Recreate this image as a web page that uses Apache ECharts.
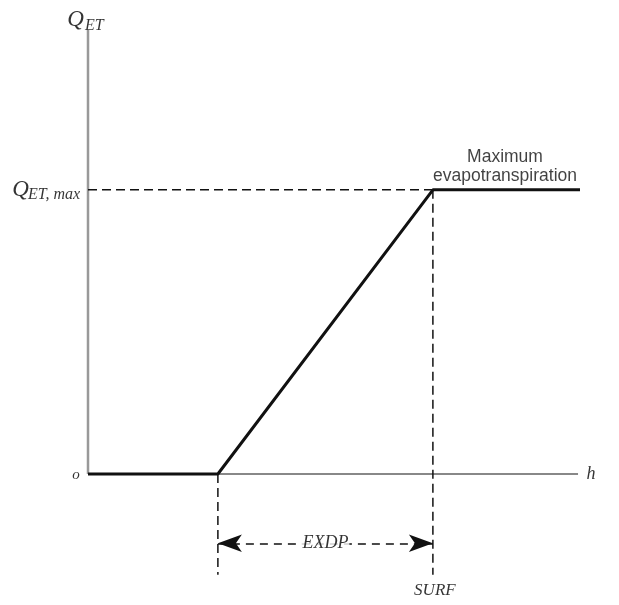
<!DOCTYPE html>
<html>
<head>
<meta charset="utf-8">
<script src="https://cdn.jsdelivr.net/npm/echarts@6/dist/echarts.min.js"></script>
<style>html,body{margin:0;padding:0;background:#fff;}#c{width:619px;height:605px;}</style>
</head>
<body>
<div id="c"></div>
<script>
// ---- data (in chart units) ----
const hRange = [0, 100];          // h axis extent
const qRange = [0, 100];          // Q_ET axis extent
const hCurve = [0, 26.4, 70.1, 100]; // h values of the ET function
const qCurve = [0, 0, 64, 64];       // Q_ET values of the ET function
const qMax = 64;                     // Q_ET,max
const hExdp = 26.4;                  // SURF - EXDP
const hSurf = 70.1;                  // SURF
const guideBottom = -22.7;           // lower end of vertical guides
const arrowLevel = -15.6;            // level of EXDP dimension arrow

const serif = '"Liberation Serif", "DejaVu Serif", serif';
const sans = '"Liberation Sans", Arial, sans-serif';
const ink = '#111';

function txt(value, text, opt) {
  return {
    value: value,
    label: Object.assign({
      show: true, formatter: text, position: 'inside',
      align: 'center', verticalAlign: 'middle',
      fontFamily: serif, fontStyle: 'italic', color: '#000', fontSize: 17
    }, opt)
  };
}

const labelData = [
  txt([hRange[0], qRange[1]], 'Q', { offset: [-12.5, -10], fontSize: 23 }),
  txt([hRange[0], qRange[1]], 'ET', { offset: [-3, -4.5], align: 'left', fontSize: 16 }),
  txt([hRange[0], qMax], 'Q', { offset: [-67.5, 0], fontSize: 23 }),
  txt([hRange[0], qMax], 'ET, max', { offset: [-60, 4.5], align: 'left', fontSize: 16 }),
  txt([hRange[0], 0], 'o', { offset: [-12, 1], fontSize: 15 }),
  txt([hRange[1], 0], 'h', { offset: [11, 0], fontSize: 18 }),
  txt([(hExdp + hSurf) / 2, arrowLevel], 'EXDP', { offset: [0, 0], fontSize: 18, backgroundColor: '#fff', padding: [0, 1] }),
  txt([hSurf, guideBottom], 'SURF', { offset: [2, 16], fontSize: 17 }),
  txt([hRange[1], qMax], 'Maximum', { offset: [-75, -33], fontFamily: sans, fontStyle: 'normal', fontSize: 17.5, color: '#111' }),
  txt([hRange[1], qMax], 'evapotranspiration', { offset: [-75, -14], fontFamily: sans, fontStyle: 'normal', fontSize: 17.5, color: '#111' })
];

const chart = echarts.init(document.getElementById('c'), null, { renderer: 'canvas' });
const dash = { color: ink, width: 1.5, type: [9, 5] };

chart.setOption({
  animation: false,
  backgroundColor: '#fff',
  grid: { left: 88, right: 39, top: 30, bottom: 20 },
  xAxis: { type: 'value', min: hRange[0], max: hRange[1], show: false },
  yAxis: { type: 'value', min: -25, max: qRange[1], show: false },
  series: [
    { type: 'line', silent: true, symbol: 'none', data: [[hRange[0], 0], [hRange[0], qRange[1]]],
      lineStyle: { color: '#999', width: 2.5 } },
    { type: 'line', silent: true, symbol: 'none', data: [[hRange[0], 0], [hRange[1] - 0.4, 0]],
      lineStyle: { color: '#888', width: 2 } },
    { type: 'line', silent: true, symbol: 'none', data: [[hRange[0], qMax], [hSurf, qMax]], lineStyle: dash },
    { type: 'line', silent: true, symbol: 'none', data: [[hSurf, qMax], [hSurf, guideBottom]], lineStyle: dash },
    { type: 'line', silent: true, symbol: 'none', data: [[hExdp, 0], [hExdp, guideBottom]], lineStyle: dash,
      markLine: {
        silent: true, symbol: ['arrow', 'arrow'], symbolSize: [13, 24],
        label: { show: false },
        lineStyle: { color: ink, width: 1.5, type: [8, 6] },
        itemStyle: { color: ink },
        data: [[{ coord: [hExdp, arrowLevel] }, { coord: [hSurf, arrowLevel] }]]
      } },
    { type: 'line', silent: true, symbol: 'none', data: hCurve.map((h, i) => [h, qCurve[i]]),
      lineStyle: { color: ink, width: 3 } },
    { type: 'scatter', silent: true, symbolSize: 1, itemStyle: { color: 'rgba(0,0,0,0)' },
      data: labelData, z: 10 }
  ]
});
</script>
</body>
</html>
